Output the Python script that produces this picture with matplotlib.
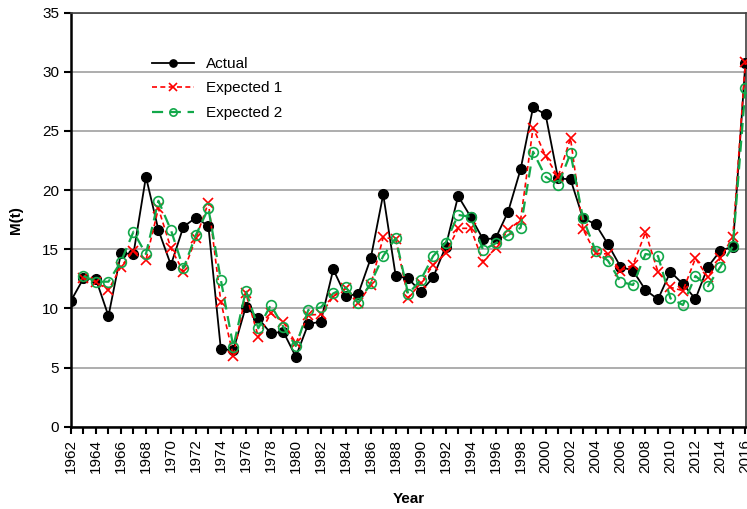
import matplotlib
matplotlib.use("Agg")
import matplotlib.pyplot as plt
from matplotlib.ticker import MultipleLocator

# =====================================
# Data
# =====================================

years = list(range(1962, 2017))

actual = [
    10.65, 12.54, 12.46, 9.36, 14.66, 14.6, 21.13, 16.63, 13.67, 16.9,
    17.67, 16.97, 6.54, 6.48, 10.14, 9.16, 7.89, 8.03, 5.92, 8.68,
    8.88, 13.3, 11.05, 11.22, 14.23, 19.64, 12.74, 12.54, 11.41, 12.63,
    15.22, 19.5, 17.75, 15.84, 15.93, 18.17, 21.76, 27.0, 26.4, 21.0,
    20.91, 17.61, 17.13, 15.42, 13.52, 13.19, 11.56, 10.77, 13.1, 12.06,
    10.8, 13.52, 14.88, 15.22, 30.77
]

expected_1 = [
    None, 12.54, 12.26, 11.56, 13.52, 14.88, 14.09, 18.46, 15.08, 13.1,
    15.93, 18.94, 10.57, 5.98, 11.27, 7.61, 9.59, 8.88, 7.05, 9.44,
    9.5, 10.99, 11.7, 10.43, 11.98, 16.01, 15.84, 10.9, 12.12, 13.67,
    14.66, 16.77, 16.77, 13.95, 15.08, 16.63, 17.47, 25.28, 22.88, 21.13,
    24.38, 16.69, 14.66, 14.6, 13.19, 13.67, 16.43, 13.1, 11.78, 11.5,
    14.23, 12.63, 14.23, 16.06, 30.8
]

expected_2 = [
    None, 12.74, 12.26, 12.26, 13.95, 16.48, 14.6, 19.1, 16.63, 13.39,
    16.2, 18.46, 12.4, 6.76, 11.5, 8.32, 10.29, 8.45, 6.82, 9.86,
    10.09, 11.27, 11.78, 10.48, 12.12, 14.43, 15.95, 11.22, 12.4, 14.43,
    15.55, 17.9, 17.75, 14.94, 15.5, 16.2, 16.82, 23.25, 21.13, 20.43,
    23.11, 17.61, 14.88, 14.03, 12.26, 11.98, 14.6, 14.43, 10.85, 10.29,
    12.74, 11.89, 13.52, 15.27, 28.6
]

x_e = years[1:]
e1 = expected_1[1:]
e2 = expected_2[1:]

# =====================================
# Figure
# =====================================

plt.rcParams["font.family"] = ["Liberation Sans", "DejaVu Sans"]

fig = plt.figure(figsize=(7.47, 5.09), dpi=100)
ax = fig.add_axes([71 / 747, 1 - 426.7 / 509, 675 / 747, 414 / 509])

ax.plot(years, actual, color="black", linewidth=1.3, marker="o",
        markersize=7, label="Actual", zorder=3)

ax.plot(x_e, e1, color="red", linewidth=1.2, linestyle=(0, (3, 2)),
        marker="x", markersize=7, markeredgewidth=1.2,
        label="Expected 1", zorder=4)

ax.plot(x_e, e2, color="#12a84a", linewidth=1.6, linestyle=(0, (5, 3)),
        marker="o", markersize=7, markerfacecolor="none",
        markeredgewidth=1.2, label="Expected 2", zorder=5)

# =====================================
# Axes styling
# =====================================

ax.set_xlim(1962, 2016.05)
ax.set_ylim(0, 35)

ax.yaxis.set_major_locator(MultipleLocator(5))
ax.xaxis.set_major_locator(MultipleLocator(2))
ax.xaxis.set_minor_locator(MultipleLocator(1))

ax.grid(axis="y", color="#a0a0a0", linewidth=1.2)
ax.set_axisbelow(True)

for side in ["left", "bottom"]:
    ax.spines[side].set_linewidth(1.8)
    ax.spines[side].set_color("black")
for side in ["top", "right"]:
    ax.spines[side].set_linewidth(1.2)
    ax.spines[side].set_color("#404040")

ax.tick_params(axis="y", direction="out", length=5, width=1.5,
               labelsize=11)
ax.tick_params(axis="x", which="both", direction="out", length=5,
               width=1.5, labelsize=11, labelrotation=90)

ax.set_xlabel("Year", fontsize=11, fontweight="bold", labelpad=14)
ax.set_ylabel("M(t)", fontsize=11, fontweight="bold", labelpad=14)

ax.legend(loc="upper left", bbox_to_anchor=(0.1, 0.926),
          frameon=False, fontsize=11, handlelength=2.7,
          handletextpad=0.8, labelspacing=0.68, markerscale=0.75)

fig.savefig("out.png", dpi=100)
